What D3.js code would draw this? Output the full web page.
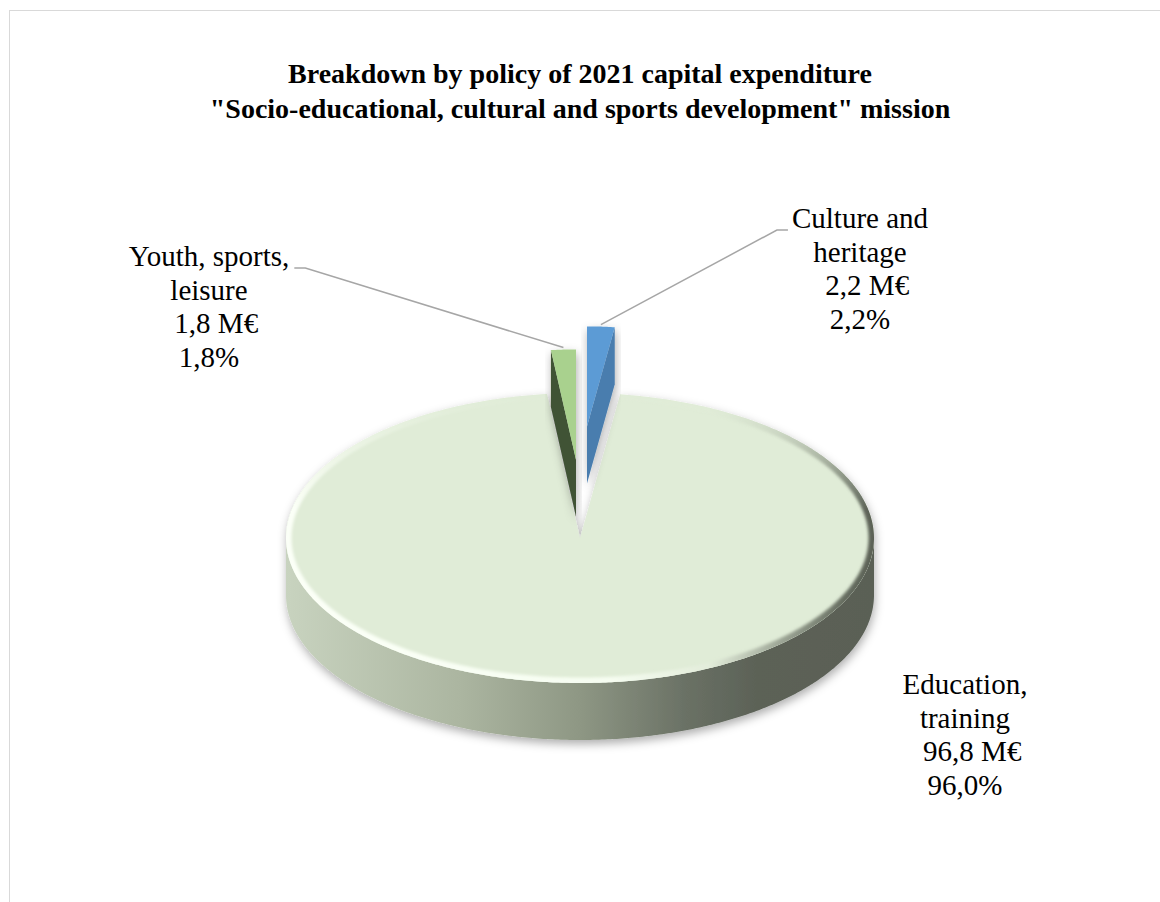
<!DOCTYPE html>
<html>
<head>
<meta charset="utf-8">
<script src="https://cdn.jsdelivr.net/npm/d3@7"></script>
<style>
  html, body { margin: 0; padding: 0; background: #fff; }
  svg { display: block; }
</style>
</head>
<body>
<svg id="chart" width="1160" height="902"></svg>
<script>
// ---- data -------------------------------------------------------------
const categories = ["Culture and heritage", "Education, training", "Youth, sports, leisure"];
const amounts = [2.2, 96.8, 1.8];            // capital expenditure, M€
const explode = [0.77, 0, 0.54];             // slice explosion, fraction of the radius
const titleLines = [
  "Breakdown by policy of 2021 capital expenditure",
  "\"Socio-educational, cultural and sports development\" mission"
];
const labelLines = [["Culture and", "heritage"], ["Education,", "training"], ["Youth, sports,", "leisure"]];

// ---- styles -----------------------------------------------------------
const serif = "'Liberation Serif', 'Times New Roman', serif";
const topColors  = ["#5B9BD5", "#E0ECD7", "#A9D18E"];
const faceColors = ["#4A7DAE", "#8F9886", "#3F5234"];
const labelPos   = [{x: 860, y: 228}, {x: 965, y: 694}, {x: 209, y: 266}];
const lineGap = 33.5;

// ---- layout -----------------------------------------------------------
const W = 1160, H = 902;
const cx = 580, cy = 538, rx = 294, ry = 145, depth = 57;
const perspective = 0.58, lateral = 0.45;

const svg = d3.select("#chart");
const defs = svg.append("defs");

svg.append("rect")
  .attr("x", 9.5).attr("y", 10.5)
  .attr("width", W).attr("height", H)
  .attr("fill", "#fff").attr("stroke", "#D9D9D9").attr("stroke-width", 1);

// shadows and gradients
const shadow = defs.append("filter").attr("id", "shadow")
  .attr("x", "-20%").attr("y", "-20%").attr("width", "140%").attr("height", "140%");
shadow.append("feDropShadow")
  .attr("dx", 1).attr("dy", 4).attr("stdDeviation", 5)
  .attr("flood-color", "#000").attr("flood-opacity", 0.32);

const soft = defs.append("filter").attr("id", "soft");
soft.append("feGaussianBlur").attr("stdDeviation", 1.6);

const sideGrad = defs.append("linearGradient").attr("id", "sideGrad")
  .attr("gradientUnits", "userSpaceOnUse")
  .attr("x1", cx - rx).attr("x2", cx + rx).attr("y1", 0).attr("y2", 0);
[[0, "#C8D3BF"], [0.3, "#ABB5A0"], [0.5, "#8E9784"], [0.68, "#6A7165"], [0.8, "#5C6257"], [1, "#5A6055"]]
  .forEach(([o, c]) => sideGrad.append("stop").attr("offset", o).attr("stop-color", c));

const rimGrad = defs.append("linearGradient").attr("id", "rimGrad")
  .attr("gradientUnits", "userSpaceOnUse")
  .attr("x1", cx - rx).attr("x2", cx + rx).attr("y1", 0).attr("y2", 0);
[[0, "#FBFFF7"], [0.55, "#F6FDF1"], [0.72, "#E2ECDA"], [0.84, "#9DA696"], [0.95, "#666D60"], [1, "#5B6156"]]
  .forEach(([o, c]) => rimGrad.append("stop").attr("offset", o).attr("stop-color", c));

const rimFade = defs.append("linearGradient").attr("id", "rimFade")
  .attr("gradientUnits", "userSpaceOnUse")
  .attr("x1", 0).attr("x2", 0).attr("y1", cy - ry).attr("y2", cy + ry);
[[0, 0], [0.22, 0.5], [0.4, 1], [1, 1]]
  .forEach(([o, v]) => rimFade.append("stop").attr("offset", o).attr("stop-color", "#fff").attr("stop-opacity", v));
defs.append("mask").attr("id", "rimMask")
  .append("rect").attr("x", 0).attr("y", 0).attr("width", W).attr("height", H)
  .attr("fill", "url(#rimFade)");

// ---- pie geometry -----------------------------------------------------
const slices = d3.pie().sort(null).value(d => d)(amounts);
const total = d3.sum(amounts);

const geo = slices.map((s, i) => {
  const e = explode[i];
  const mid = (s.startAngle + s.endAngle) / 2;
  const k = 1 / (1 + perspective * e);
  const ax = cx + lateral * e * rx * Math.sin(mid);
  const ay = cy - e * ry * Math.cos(mid);
  const pt = (a, h = 0) => [ax + k * rx * Math.sin(a), ay - k * ry * Math.cos(a) + h];
  return {s, i, mid, k, ax, ay, pt};
});

const arcPts = (g, a0, a1, h = 0) => {
  const n = Math.max(2, Math.ceil(Math.abs(a1 - a0) / 0.01));
  return d3.range(n + 1).map(j => g.pt(a0 + (a1 - a0) * j / n, h));
};
const line = d3.line();
const closed = pts => line(pts) + "Z";

function topPath(g) {
  return closed([[g.ax, g.ay]].concat(arcPts(g, g.s.startAngle, g.s.endAngle)));
}
function sidePts(g) {
  const lo = Math.max(g.s.startAngle, Math.PI / 2), hi = Math.min(g.s.endAngle, 3 * Math.PI / 2);
  if (lo >= hi) return null;
  return arcPts(g, lo, hi).concat(arcPts(g, lo, hi, depth).reverse());
}
function radialFaces(g) {
  const faces = [];
  const add = a => faces.push([[g.ax, g.ay], g.pt(a), g.pt(a, depth), [g.ax, g.ay + depth]]);
  if (Math.sin(g.s.startAngle) < -1e-9) add(g.s.startAngle);
  if (Math.sin(g.s.endAngle) > 1e-9) add(g.s.endAngle);
  return faces;
}

// ---- main slice (not exploded) ---------------------------------------
const base = geo.filter(g => explode[g.i] === 0);
const baseG = svg.append("g").attr("filter", "url(#shadow)");
base.forEach(g => {
  const sp = sidePts(g);
  if (sp) baseG.append("path").attr("d", closed(sp)).attr("fill", "url(#sideGrad)");
  radialFaces(g).forEach(f => baseG.append("path").attr("d", closed(f)).attr("fill", faceColors[g.i]));
  baseG.append("path").attr("d", topPath(g)).attr("fill", topColors[g.i]);
});

// bevelled rim on the top face
base.forEach(g => {
  const clipId = "clip" + g.i;
  defs.append("clipPath").attr("id", clipId).append("path").attr("d", topPath(g));
  svg.append("g").attr("clip-path", `url(#${clipId})`).attr("mask", "url(#rimMask)")
    .append("path")
    .attr("d", line(arcPts(g, g.s.startAngle, g.s.endAngle)))
    .attr("fill", "none")
    .attr("stroke", "url(#rimGrad)")
    .attr("stroke-width", 11)
    .attr("filter", "url(#soft)");
});

// ---- exploded slices ---------------------------------------------------
geo.filter(g => explode[g.i] > 0).forEach(g => {
  const wg = svg.append("g").attr("filter", "url(#shadow)");
  radialFaces(g).forEach(f => wg.append("path").attr("d", closed(f)).attr("fill", faceColors[g.i]));
  wg.append("path").attr("d", topPath(g)).attr("fill", topColors[g.i]);
});

// ---- title -------------------------------------------------------------
const title = svg.append("text")
  .attr("text-anchor", "middle")
  .style("font-family", serif)
  .style("font-weight", "bold")
  .style("font-size", "28px")
  .style("fill", "#000");
titleLines.forEach((t, j) => title.append("tspan").attr("x", 580).attr("y", 83 + j * 35).text(t));

// ---- data labels -------------------------------------------------------
const loc = d3.formatLocale({decimal: ",", thousands: " ", grouping: [3], currency: ["", " M€"]});
const fmtVal = loc.format(".1f");
const fmtPct = loc.format(".1%");

geo.forEach(g => {
  const p = labelPos[g.i];
  const lines = labelLines[g.i].concat(["  " + fmtVal(amounts[g.i]) + " M€", fmtPct(amounts[g.i] / total)]);
  const txt = svg.append("text")
    .attr("text-anchor", "middle")
    .style("font-family", serif)
    .style("font-size", "29px")
    .style("fill", "#000")
    .style("white-space", "pre");
  const spans = lines.map((t, j) => txt.append("tspan").attr("x", p.x).attr("y", p.y + j * lineGap).text(t));

  if (explode[g.i] > 0) {
    const target = g.pt(g.mid);
    const first = spans[0].node();
    const w = first.getComputedTextLength();
    const onRight = p.x > target[0];
    const sx = onRight ? p.x - w / 2 - 4 : p.x + w / 2 + 5;
    const ex = onRight ? sx - 11 : sx + 11;
    const yy = p.y + 2;
    svg.insert("path", "text")
      .attr("d", line([[sx, yy], [ex, yy], [target[0], target[1] - 2]]))
      .attr("fill", "none")
      .attr("stroke", "#A6A6A6")
      .attr("stroke-width", 1.5);
  }
});
</script>
</body>
</html>
